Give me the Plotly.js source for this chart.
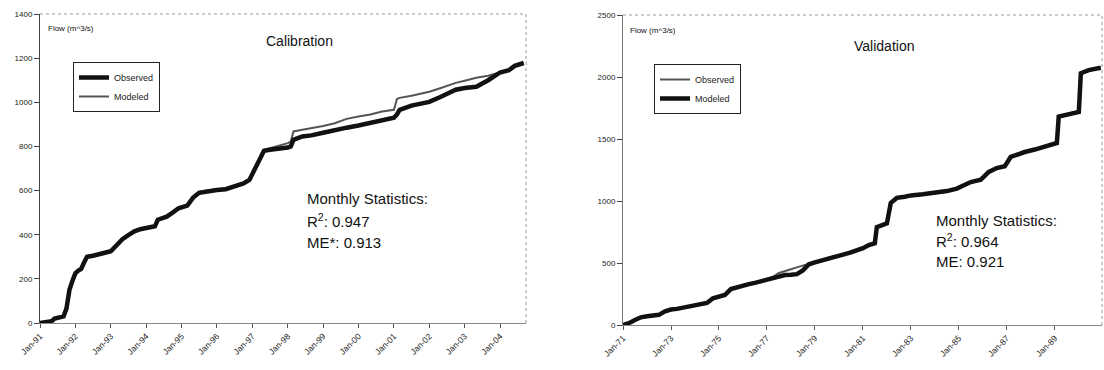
<!DOCTYPE html>
<html>
<head>
<meta charset="utf-8">
<script src="https://cdn.plot.ly/plotly-3.0.1.min.js"></script>
<style>html,body{margin:0;padding:0;background:#fff;}#chart{width:1104px;height:370px;}</style>
</head>
<body>
<div id="chart"></div>
<script>
// ---- Calibration (1991-2004) ----
const calDates = ['1991-01-01','1991-03-01','1991-05-01','1991-06-01','1991-08-01','1991-09-01','1991-10-01','1991-11-01','1991-12-01',
  '1992-01-01','1992-02-01','1992-03-01','1992-04-01','1992-05-01','1992-07-01','1992-09-01','1992-11-01',
  '1993-01-01','1993-03-01','1993-05-01','1993-07-01','1993-09-01','1993-11-01',
  '1994-02-01','1994-04-01','1994-05-01','1994-08-01','1994-10-01','1994-12-01',
  '1995-03-01','1995-05-01','1995-07-01','1995-10-01',
  '1996-01-01','1996-04-01','1996-07-01','1996-10-01','1996-12-01',
  '1997-01-01','1997-03-01','1997-05-01','1997-07-01','1997-10-01',
  '1998-01-01','1998-02-01','1998-03-01','1998-06-01','1998-09-01',
  '1999-01-01','1999-05-01','1999-09-01',
  '2000-01-01','2000-05-01','2000-09-01',
  '2001-01-01','2001-02-01','2001-03-01','2001-07-01',
  '2002-01-01','2002-05-01','2002-10-01',
  '2003-01-01','2003-05-01','2003-09-01',
  '2004-01-01','2004-04-01','2004-06-01','2004-09-01'];
const calObserved = [0,3,8,20,25,30,65,150,190,
  225,238,245,275,300,305,310,318,
  325,350,380,398,415,425,
  430,438,468,482,500,520,
  532,568,590,598,
  603,606,618,632,648,
  675,725,780,785,788,
  795,800,830,845,850,
  862,875,885,
  895,905,918,
  930,945,966,985,
  1002,1025,1057,
  1065,1070,1100,
  1135,1145,1165,1178];
const calModeled = [0,4,9,21,26,32,68,152,192,
  227,240,248,278,303,308,314,322,
  330,355,384,402,418,428,
  433,442,471,486,505,524,
  536,572,594,602,
  606,610,622,636,652,
  680,730,785,792,803,
  815,822,868,876,882,
  893,905,925,
  936,945,958,
  966,1015,1020,1030,
  1048,1065,1088,
  1098,1111,1120,
  1136,1147,1166,1179];

// ---- Validation (1971-1990) ----
const valDates = ['1971-01-01','1971-04-01','1971-07-01','1971-10-01',
  '1972-01-01','1972-04-01','1972-07-01','1972-10-01',
  '1973-01-01','1973-04-01','1973-07-01','1973-10-01',
  '1974-01-01','1974-04-01','1974-07-01','1974-10-01',
  '1975-01-01','1975-04-01','1975-07-01','1975-10-01',
  '1976-01-01','1976-04-01','1976-07-01','1976-10-01',
  '1977-01-01','1977-04-01','1977-07-01','1977-10-01',
  '1978-01-01','1978-04-01','1978-07-01','1978-10-01',
  '1979-01-01','1979-04-01','1979-07-01','1979-10-01',
  '1980-01-01','1980-04-01','1980-07-01','1980-10-01',
  '1981-01-01','1981-04-01','1981-07-01','1981-08-01','1981-10-01',
  '1982-01-01','1982-03-01','1982-06-01','1982-10-01',
  '1983-01-01','1983-07-01','1984-01-01','1984-07-01','1984-12-01',
  '1985-04-01','1985-07-01','1985-12-01',
  '1986-04-01','1986-08-01','1986-12-01',
  '1987-03-01','1987-06-01','1987-10-01',
  '1988-03-01','1988-08-01',
  '1989-01-01','1989-02-01','1989-03-01','1989-08-01',
  '1990-01-01','1990-02-01','1990-06-01','1990-12-01'];
const valObserved = [0,16,42,64,
  72,78,86,114,
  128,133,143,153,
  162,171,181,218,
  231,246,294,308,
  321,334,344,357,
  372,388,420,432,
  450,465,480,495,
  508,522,533,550,
  562,574,588,603,
  622,646,662,792,802,
  822,986,1026,1037,
  1046,1056,1066,1082,1102,
  1132,1154,1174,
  1236,1268,1282,
  1356,1376,1396,
  1416,1437,
  1456,1469,1681,1701,
  1719,2031,2057,2076];
const valModeled = [0,15,40,62,
  70,75,82,110,
  125,130,140,150,
  160,168,178,215,
  228,242,290,305,
  318,330,340,352,
  365,378,395,403,
  405,410,440,490,
  505,520,530,548,
  560,572,585,600,
  620,645,660,790,800,
  820,985,1025,1035,
  1045,1055,1064,1080,1100,
  1130,1153,1172,
  1234,1266,1280,
  1355,1375,1395,
  1415,1436,
  1455,1468,1680,1700,
  1718,2030,2056,2075];

// ---- texts ----
const calTitle = 'Calibration';
const valTitle = 'Validation';
const yLabel = 'Flow (m^3/s)';
const calStats = ['Monthly Statistics:', 'R<sup>2</sup>: 0.947', 'ME*: 0.913'];
const valStats = ['Monthly Statistics:', 'R<sup>2</sup>: 0.964', 'ME: 0.921'];
const seriesNames = ['Observed', 'Modeled'];

const FONT = 'Arial, "Liberation Sans", sans-serif';
const W = 1104, H = 370;
const px = v => v / W;
const py = v => 1 - v / H;

const thick = {color: '#111', width: 4.5};
const thinL = {color: '#555', width: 2};

const traces = [
  {x: calDates, y: calModeled, name: seriesNames[1], type: 'scatter', mode: 'lines', line: thinL, xaxis: 'x', yaxis: 'y', legend: 'legend', legendrank: 2},
  {x: calDates, y: calObserved, name: seriesNames[0], type: 'scatter', mode: 'lines', line: thick, xaxis: 'x', yaxis: 'y', legend: 'legend', legendrank: 1},
  {x: valDates, y: valObserved, name: seriesNames[0], type: 'scatter', mode: 'lines', line: thinL, xaxis: 'x2', yaxis: 'y2', legend: 'legend2', legendrank: 1},
  {x: valDates, y: valModeled, name: seriesNames[1], type: 'scatter', mode: 'lines', line: thick, xaxis: 'x2', yaxis: 'y2', legend: 'legend2', legendrank: 2}
];

const xTickFont = {family: FONT, size: 8.5, color: '#222'};
const yTickFont = {family: FONT, size: 8, color: '#222'};
const xBase = {type: 'date', tickformat: '%b-%y', tickangle: -45, tickfont: xTickFont,
  showgrid: false, zeroline: false, showline: true, linecolor: '#888', linewidth: 1,
  ticks: 'outside', ticklen: 4, tickcolor: '#555', fixedrange: true};
const yBase = {tickfont: yTickFont, showgrid: false, zeroline: false, showline: true,
  linecolor: '#444', linewidth: 1, ticks: 'outside', ticklen: 5, tickcolor: '#444', fixedrange: true};

const legBase = {font: {family: FONT, size: 9, color: '#222'}, bgcolor: '#fff',
  bordercolor: '#222', borderwidth: 1, xanchor: 'left', yanchor: 'top', itemwidth: 30, tracegroupgap: 0};

const ann = [];
function addText(t, x, y, size, anchor) {
  ann.push({text: t, x: px(x), y: py(y), xref: 'paper', yref: 'paper', showarrow: false,
    xanchor: anchor || 'left', yanchor: 'middle', font: {family: FONT, size: size, color: '#111'}});
}
addText(calTitle, 299, 41, 14, 'center');
addText(valTitle, 884, 46, 14, 'center');
addText(yLabel, 46, 28, 8);
addText(yLabel, 628, 30, 8);
calStats.forEach((t, i) => addText(t, 305, 199 + i * 21.5, 15));
valStats.forEach((t, i) => addText(t, 934, 220 + i * 20.5, 15));

const dotted = {color: '#999', width: 1, dash: 'dot'};
const shapes = [
  {type: 'line', xref: 'x domain', yref: 'y domain', x0: 0, x1: 1, y0: 1, y1: 1, line: dotted},
  {type: 'line', xref: 'x domain', yref: 'y domain', x0: 1, x1: 1, y0: 0, y1: 1, line: dotted},
  {type: 'line', xref: 'x2 domain', yref: 'y2 domain', x0: 0, x1: 1, y0: 1, y1: 1, line: dotted},
  {type: 'line', xref: 'x2 domain', yref: 'y2 domain', x0: 1, x1: 1, y0: 0, y1: 1, line: dotted}
];

const layout = {
  width: W, height: H, margin: {l: 0, r: 0, t: 0, b: 0},
  paper_bgcolor: '#fff', plot_bgcolor: '#fff', showlegend: true,
  xaxis: Object.assign({}, xBase, {domain: [px(40), px(526)], range: ['1991-01-01', '2004-09-25'],
    dtick: 'M12', tick0: '1991-01-01', anchor: 'y'}),
  yaxis: Object.assign({}, yBase, {domain: [py(323), py(14)], range: [0, 1400], dtick: 200, anchor: 'x'}),
  xaxis2: Object.assign({}, xBase, {domain: [px(623), px(1102)], range: ['1971-01-01', '1990-12-20'],
    dtick: 'M24', tick0: '1971-01-01', anchor: 'y2'}),
  yaxis2: Object.assign({}, yBase, {domain: [py(325), py(15)], range: [0, 2500], dtick: 500, anchor: 'x2', linecolor: '#777'}),
  legend: Object.assign({}, legBase, {x: px(73), y: py(62)}),
  legend2: Object.assign({}, legBase, {x: px(654), y: py(64)}),
  annotations: ann,
  shapes: shapes
};

Plotly.newPlot('chart', traces, layout, {displayModeBar: false, staticPlot: true});
</script>
</body>
</html>
